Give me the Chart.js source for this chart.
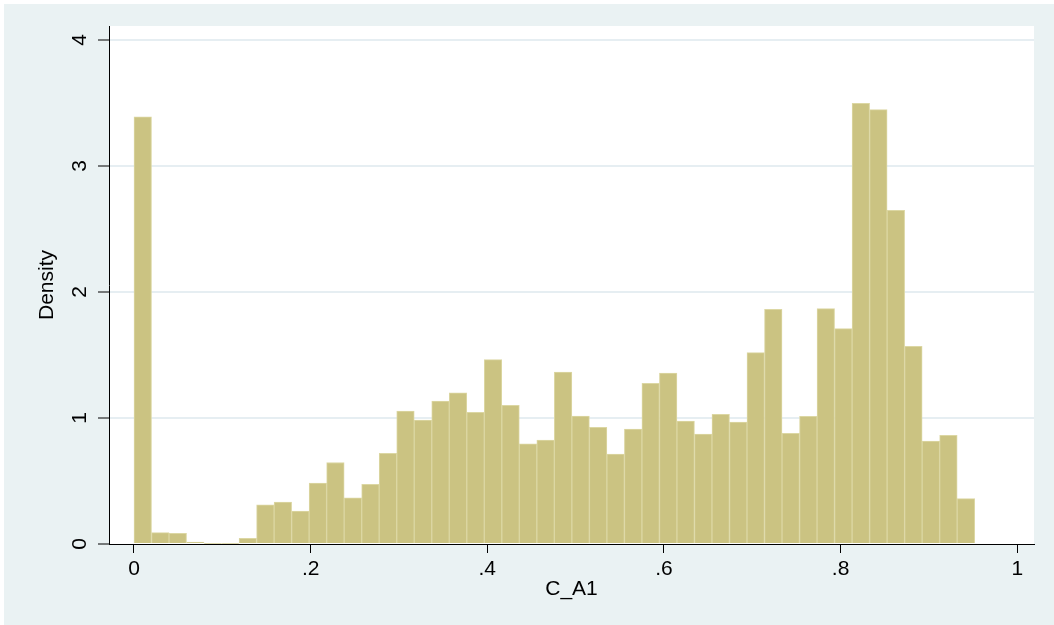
<!DOCTYPE html>
<html>
<head>
<meta charset="utf-8">
<script src="https://cdn.jsdelivr.net/npm/chart.js@4.4.1/dist/chart.umd.min.js"></script>
<style>
  body { margin: 0; background: #ffffff; }
  canvas { display: block; }
</style>
</head>
<body>
<canvas id="histChart" width="1054" height="625"></canvas>
<script>
// Histograma de C_A1 (densidad), 48 intervalos
const binWidth = 0.01983;
const density = [
    3.39, 0.09, 0.085, 0.016, 0.005, 0.005, 0.045, 0.31, 0.333, 0.262,
    0.483, 0.647, 0.366, 0.474, 0.72, 1.055, 0.984, 1.135, 1.2, 1.045,
    1.463, 1.1, 0.794, 0.825, 1.365, 1.016, 0.926, 0.714, 0.913, 1.275,
    1.357, 0.975, 0.873, 1.029, 0.968, 1.519, 1.862, 0.878, 1.013, 1.868,
    1.709, 3.497, 3.447, 2.648, 1.569, 0.817, 0.862, 0.36
];
const xTicks = [0, 0.2, 0.4, 0.6, 0.8, 1];
const xTickLabels = ['0', '.2', '.4', '.6', '.8', '1'];
const yTicks = [0, 1, 2, 3, 4];
const xTitle = 'C_A1';
const yTitle = 'Density';

const FONT = 'Liberation Sans, Arial, Helvetica, sans-serif';

// Puntos centrales de cada intervalo
const points = density.map(function(d, i) {
    return { x: (i + 0.5) * binWidth, y: d };
});

// Fondo estilo Stata
const backgroundPlugin = {
    id: 'stataBackground',
    beforeDraw: function(chart) {
        const ctx = chart.ctx;
        const area = chart.chartArea;
        ctx.save();
        ctx.fillStyle = '#ffffff';
        ctx.fillRect(0, 0, chart.width, chart.height);
        ctx.fillStyle = '#eaf2f3';
        ctx.fillRect(4, 4, chart.width - 4, chart.height - 4);
        ctx.fillStyle = '#ffffff';
        ctx.fillRect(area.left, area.top, area.right - area.left, area.bottom - area.top);
        ctx.restore();
    }
};

const histChart = new Chart(document.getElementById('histChart'), {
    type: 'bar',
    data: {
        datasets: [{
            label: yTitle,
            data: points,
            backgroundColor: '#cbc382',
            borderColor: '#dcd7a3',
            borderWidth: 1,
            borderSkipped: 'start',
            barPercentage: 1,
            categoryPercentage: 1,
            grouped: false
        }]
    },
    options: {
        responsive: false,
        animation: false,
        layout: {
            padding: { top: 26, right: 20, left: 0, bottom: 0 }
        },
        plugins: {
            legend: { display: false },
            tooltip: { enabled: false }
        },
        scales: {
            x: {
                type: 'linear',
                offset: false,
                min: -0.0283,
                max: 1.019,
                afterFit: function(scale) { scale.height = 81; },
                afterBuildTicks: function(scale) {
                    scale.ticks = xTicks.map(function(v) { return { value: v }; });
                },
                border: { display: true, color: '#000000', width: 1 },
                grid: {
                    display: true,
                    offset: false,
                    drawOnChartArea: false,
                    drawTicks: true,
                    tickLength: 9,
                    tickColor: '#000000'
                },
                ticks: {
                    color: '#000000',
                    font: { family: FONT, size: 21 },
                    padding: 4,
                    maxRotation: 0,
                    minRotation: 0,
                    callback: function(value) {
                        const idx = xTicks.indexOf(value);
                        return idx >= 0 ? xTickLabels[idx] : '';
                    }
                },
                title: {
                    display: true,
                    text: xTitle,
                    color: '#000000',
                    font: { family: FONT, size: 21 },
                    padding: { top: 0, bottom: 23 }
                }
            },
            y: {
                min: 0,
                max: 4.111,
                afterFit: function(scale) { scale.width = 109; },
                afterBuildTicks: function(scale) {
                    scale.ticks = yTicks.map(function(v) { return { value: v }; });
                },
                border: { display: true, color: '#000000', width: 1 },
                grid: {
                    color: function(context) {
                        return context.tick && context.tick.value === 0 ? 'rgba(0,0,0,0)' : '#e6eef2';
                    },
                    lineWidth: 2,
                    drawTicks: true,
                    tickLength: 11,
                    tickColor: '#000000',
                    tickWidth: 1
                },
                ticks: {
                    color: '#000000',
                    font: { family: FONT, size: 21 },
                    minRotation: 90,
                    maxRotation: 90,
                    crossAlign: 'center',
                    padding: 12,
                    callback: function(value) { return String(value); }
                },
                title: {
                    display: true,
                    text: yTitle,
                    color: '#000000',
                    font: { family: FONT, size: 21 },
                    padding: { top: 35, bottom: 0 }
                }
            }
        }
    },
    plugins: [backgroundPlugin]
});
</script>
</body>
</html>
